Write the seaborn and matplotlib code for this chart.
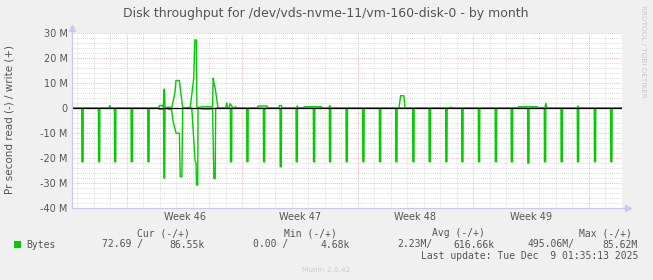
import numpy as np
import pandas as pd
import matplotlib
matplotlib.use("Agg")
import matplotlib.pyplot as plt
import seaborn as sns

# ---------------- data (days since Monday of week 46; values in MB/s) ----------------
week_labels = ["Week 46", "Week 47", "Week 48", "Week 49"]
week_label_pos = [3.5, 10.5, 17.5, 24.5]
week_starts = [0, 7, 14, 21, 28]
x_range = [-3.32, 30.02]

y_ticks = [-40, -30, -20, -10, 0, 10, 20, 30]
y_tick_labels = ["-40 M", "-30 M", "-20 M", "-10 M", "0", "10 M", "20 M", "30 M"]

# daily read bursts (negative side)
spike_days = [-2.73, -1.72, -0.75, 0.26, 1.27, 6.28, 7.27, 8.28, 9.29, 10.26,
              11.31, 12.28, 13.29, 14.30, 15.31, 16.30, 17.33, 18.32, 19.33, 20.30,
              21.31, 22.33, 23.30, 24.30, 25.31, 26.32, 27.31, 28.34, 29.33]
spike_depth = [21.5, 21.5, 21.5, 21.5, 21.5, 21.5, 21.5, 21.5, 23.5, 21.5,
               21.5, 21.5, 21.5, 21.5, 21.5, 21.5, 21.5, 21.5, 21.5, 21.5,
               21.5, 21.5, 21.5, 22.0, 21.5, 21.5, 21.5, 21.5, 21.5]

# busy period read trace
busy_read_t = [1.90, 1.98, 2.18, 2.23, 2.25, 2.30, 2.32, 2.60, 2.72, 2.79, 2.99, 3.19,
               3.24, 3.34, 3.39, 3.94, 4.14, 4.20, 4.23, 4.30, 4.32, 4.60, 5.10, 5.20,
               5.28, 5.36, 5.39]
busy_read_v = [0.0, -0.5, -0.5, 0.0, -28.0, -28.0, 0.0, -0.6, -0.6, -4.8, -10.1, -10.1,
               -27.5, -27.5, 0.0, 0.0, -21.0, -22.0, -30.8, -30.8, 0.0, -0.4, -0.4, 0.0,
               -28.2, -28.2, 0.0]

# write trace (positive side)
write_t = [-3.32, -1.08, -1.03, -0.98, 1.95, 1.98, 2.18, 2.22, 2.25, 2.29, 2.32, 2.62,
           2.72, 2.79, 2.93, 2.98, 3.19, 3.25, 3.39, 3.85, 4.06, 4.13, 4.22, 4.25,
           4.60, 5.10, 5.20, 5.24, 5.28, 5.36, 5.53, 6.00, 6.06, 6.12, 6.20, 6.26,
           6.35, 6.42, 6.55, 6.59, 6.63, 7.90, 7.96, 8.50, 8.56, 9.20, 9.26, 9.36,
           9.42, 10.28, 10.33, 10.40, 10.70, 10.75, 11.80, 11.85, 12.25, 12.30, 12.36,
           16.50, 16.60, 16.80, 16.87, 19.60, 19.65, 19.70, 23.70, 23.75, 24.90, 24.95,
           25.35, 25.40, 25.46, 27.30, 27.35, 27.40, 30.02]
write_v = [0.0, 0.0, 1.0, 0.0, 0.0, 1.0, 1.0, 0.3, 7.5, 7.5, 0.2, 0.3,
           0.0, 2.0, 6.5, 11.0, 11.0, 7.5, 0.0, 0.3, 12.0, 27.2, 27.2, 0.2,
           0.5, 0.5, 0.3, 12.0, 10.0, 8.0, 0.0, 0.0, 2.0, 0.0, 0.0, 1.7,
           1.0, 0.0, 0.0, 0.6, 0.0, 0.0, 0.8, 0.8, 0.0, 0.0, 1.0, 1.0,
           0.0, 0.0, 0.8, 0.0, 0.0, 0.5, 0.5, 0.0, 0.0, 1.0, 0.0,
           0.0, 4.9, 4.9, 0.0, 0.0, 0.4, 0.0, 0.0, 0.5, 0.5, 0.0,
           0.0, 1.9, 0.0, 0.0, 0.8, 0.0, 0.0]

legend_header = ["Cur (-/+)", "Min (-/+)", "Avg (-/+)", "Max (-/+)"]
legend_values = ["72.69 /", "86.55k", "0.00 /", "4.68k", "2.23M/", "616.66k", "495.06M/", "85.62M"]

# ---------------- build read polyline ----------------
segments = []
for d, v in zip(spike_days, spike_depth):
    segments.append(([d, d + 0.01, d + 0.08, d + 0.09], [0.0, -v, -v, 0.0]))
segments.append((busy_read_t, busy_read_v))
segments.sort(key=lambda s: s[0][0])
read_t, read_v = [x_range[0]], [0.0]
for t, v in segments:
    read_t += list(t)
    read_v += list(v)
read_t.append(x_range[1]); read_v.append(0.0)

df_read = pd.DataFrame({"day": read_t, "rate": read_v})
df_write = pd.DataFrame({"day": write_t, "rate": write_v})

# ---------------- figure ----------------
sns.set_theme(style="white")
plt.rcParams["font.family"] = ["DejaVu Sans"]

W, H = 653, 280
fig = plt.figure(figsize=(W / 100, H / 100), dpi=100, facecolor="#F0F0F0")
L, R, T, B = 72, 622, 33, 208
ax = fig.add_axes([L / W, 1 - B / H, (R - L) / W, (B - T) / H])
ax.set_facecolor("white")

GREEN = "#00CC00"
sns.lineplot(data=df_read, x="day", y="rate", sort=False, estimator=None,
             color=GREEN, lw=1.0, ax=ax, zorder=3)
sns.lineplot(data=df_write, x="day", y="rate", sort=False, estimator=None,
             color=GREEN, lw=1.0, ax=ax, zorder=3)
ax.axhline(0, color="black", lw=0.9, zorder=4)

ax.set_xlim(*x_range)
ax.set_ylim(-40, 30)

# grid
dot = (0, (1, 1.5))
for d in range(-3, 31):
    if d not in week_starts:
        ax.axvline(d, color="#D0D0D0", lw=0.6, ls=dot, zorder=1)
for y in range(-40, 31, 2):
    if y % 10:
        ax.axhline(y, color="#D0D0D0", lw=0.6, ls=dot, zorder=1)
for d in week_starts:
    ax.axvline(d, color="#F0A0A0", lw=0.6, ls=dot, zorder=1.5)
for y in y_ticks:
    ax.axhline(y, color="#F0A0A0", lw=0.6, ls=dot, zorder=1.5)

ax.set_xticks(week_label_pos)
ax.set_xticklabels(week_labels)
ax.set_yticks(y_ticks)
ax.set_yticklabels(y_tick_labels)
ax.tick_params(axis="both", length=0, labelsize=7, labelcolor="#555555")
ax.tick_params(axis="x", pad=3)
ax.tick_params(axis="y", pad=3)
ax.set_xlabel("")
ax.set_ylabel("")
for s in ax.spines.values():
    s.set_visible(False)

# axis lines with arrows
AX = "#C8C8F4"
ax.plot([0, 1.005], [0, 0], transform=ax.transAxes, color=AX, lw=0.9, clip_on=False, zorder=5)
ax.plot([0, 0], [0, 1.02], transform=ax.transAxes, color=AX, lw=0.9, clip_on=False, zorder=5)
ax.plot([1.01], [0], transform=ax.transAxes, marker=">", color=AX, ms=4, clip_on=False, zorder=5)
ax.plot([0], [1.03], transform=ax.transAxes, marker="^", color=AX, ms=4, clip_on=False, zorder=5)

# texts
def fx(x): return x / W
def fy(y): return 1 - y / H

fig.text(fx(326), fy(13), "Disk throughput for /dev/vds-nvme-11/vm-160-disk-0 - by month",
         ha="center", va="center", fontsize=9, color="#555555")
fig.text(fx(10), fy(119), "Pr second read (-) / write (+)", rotation=90,
         ha="center", va="center", fontsize=7.5, color="#555555")
fig.text(fx(643), fy(5), "RRDTOOL / TOBI OETIKER", rotation=270,
         ha="center", va="top", fontsize=5.2, color="#C8C8C8")

MONO = "DejaVu Sans Mono"
fs = 7
col = "#555555"
for txt, x in zip(legend_header, [137, 284, 432, 579]):
    fig.text(fx(x), fy(233), txt, ha="left", va="center", family=MONO, fontsize=fs, color=col)
fig.patches.append(matplotlib.patches.Rectangle((fx(14), fy(248)), 7 / W, 7 / H,
                   transform=fig.transFigure, facecolor=GREEN, edgecolor="none"))
fig.text(fx(26), fy(244.5), "Bytes", ha="left", va="center", family=MONO, fontsize=fs, color=col)
val_pos = [(102, "left"), (205, "right"), (253, "left"), (350, "right"),
           (397, "left"), (495, "right"), (528, "left"), (638, "right")]
for txt, (x, ha) in zip(legend_values, val_pos):
    fig.text(fx(x), fy(244.5), txt, ha=ha, va="center", family=MONO, fontsize=fs, color=col)
fig.text(fx(638), fy(256), "Last update: Tue Dec  9 01:35:13 2025", ha="right", va="center",
         family=MONO, fontsize=fs, color=col)
fig.text(fx(326), fy(269.5), "Munin 2.0.42", ha="center", va="center", fontsize=5.3, color="#CCCCCC")

fig.savefig("out.png", dpi=100, facecolor=fig.get_facecolor())
